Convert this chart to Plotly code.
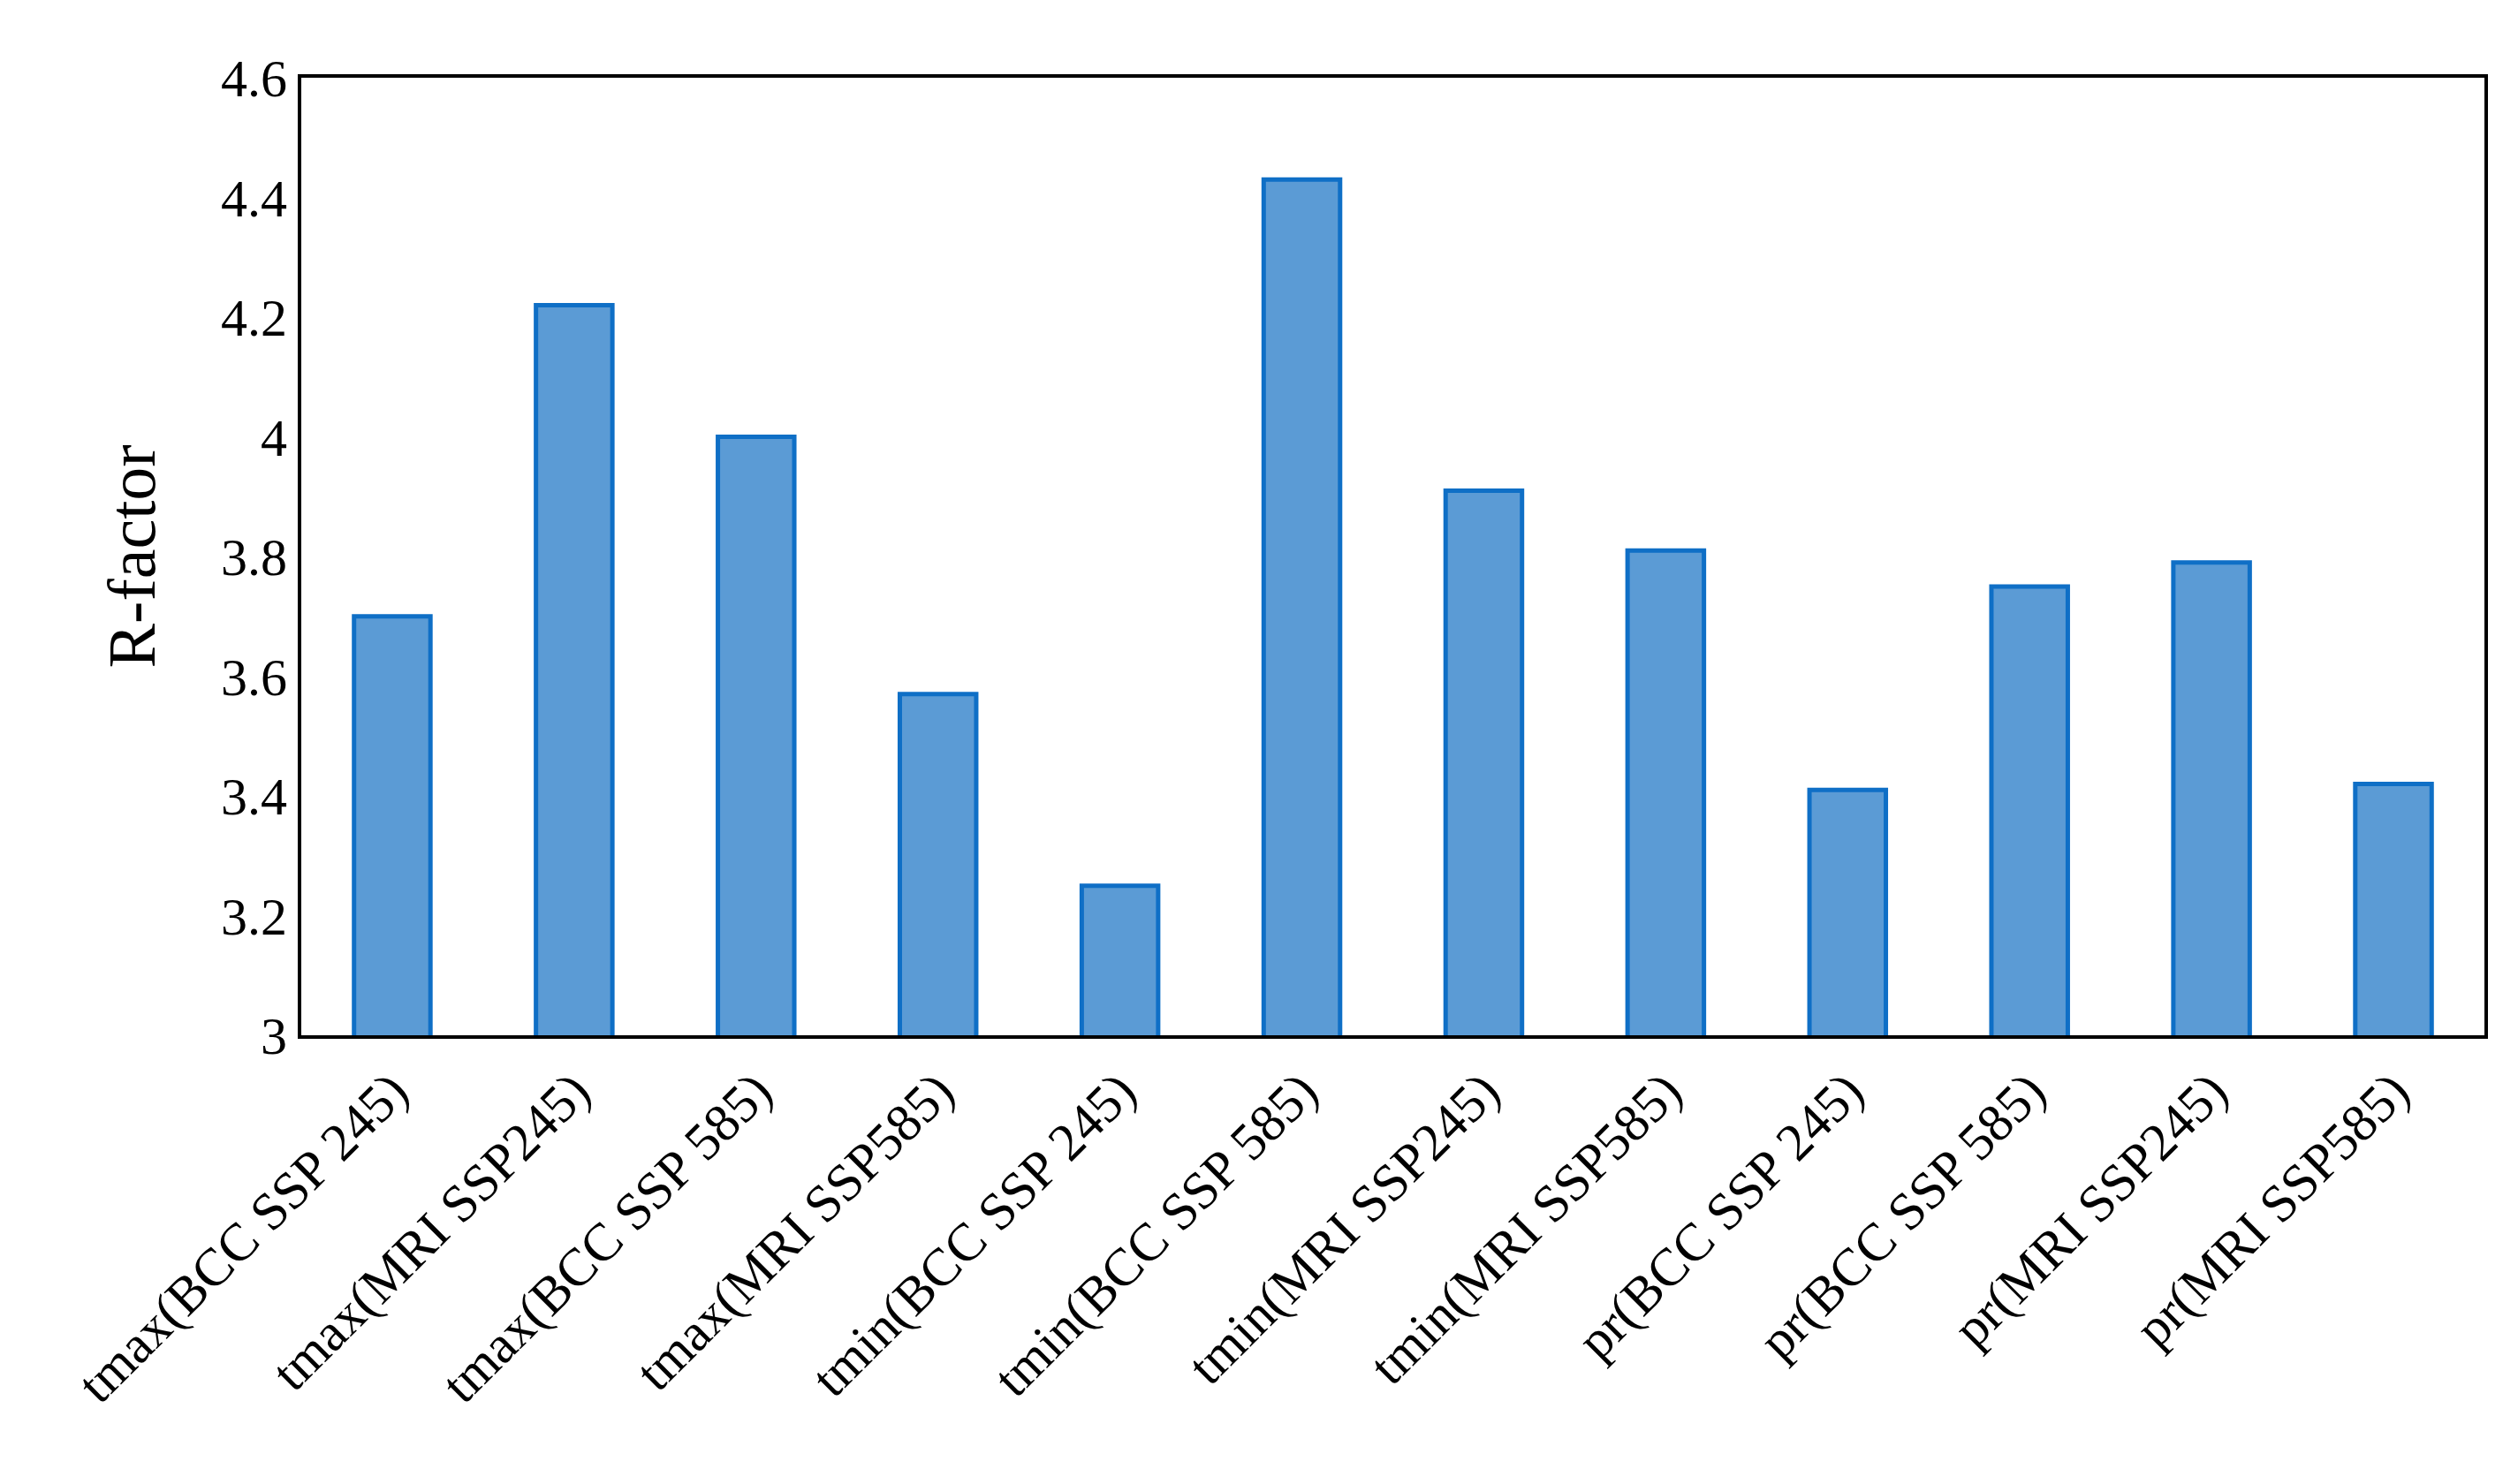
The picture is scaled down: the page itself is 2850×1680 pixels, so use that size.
import plotly.graph_objects as go

categories = ["tmax(BCC SSP 245)", "tmax(MRI SSP245)", "tmax(BCC SSP 585)", "tmax(MRI SSP585)",
              "tmin(BCC SSP 245)", "tmin(BCC SSP 585)", "tmin(MRI SSP245)", "tmin(MRI SSP585)",
              "pr(BCC SSP 245)", "pr(BCC SSP 585)", "pr(MRI SSP245)", "pr(MRI SSP585)"]
r_factor = [3.70, 4.22, 4.00, 3.57, 3.25, 4.43, 3.91, 3.81, 3.41, 3.75, 3.79, 3.42]
y_ticks = [3, 3.2, 3.4, 3.6, 3.8, 4, 4.2, 4.4, 4.6]
y_labels = ["3", "3.2", "3.4", "3.6", "3.8", "4", "4.2", "4.4", "4.6"]

fig = go.Figure(go.Bar(x=categories, y=r_factor, width=0.42,
                       marker=dict(color="#5b9bd5", line=dict(color="#0f6fc6", width=5))))
font = "Palatino Linotype, Liberation Serif, DejaVu Serif, serif"
fig.update_layout(
    width=2850, height=1680, paper_bgcolor="white", plot_bgcolor="white",
    margin=dict(l=333, r=46, t=80, b=516), showlegend=False,
    font=dict(family=font, color="black", size=60),
    xaxis=dict(tickangle=-45, showline=True, linecolor="black", linewidth=4, mirror=True,
               ticks="", tickfont=dict(size=60)),
    yaxis=dict(range=[3, 4.6], tickvals=y_ticks, ticktext=y_labels, showgrid=False,
               showline=True, linecolor="black", linewidth=4, mirror=True, ticks="",
               tickfont=dict(size=60), title=dict(text="R-factor", font=dict(size=76), standoff=50)),
)
fig.write_html("out.html")
